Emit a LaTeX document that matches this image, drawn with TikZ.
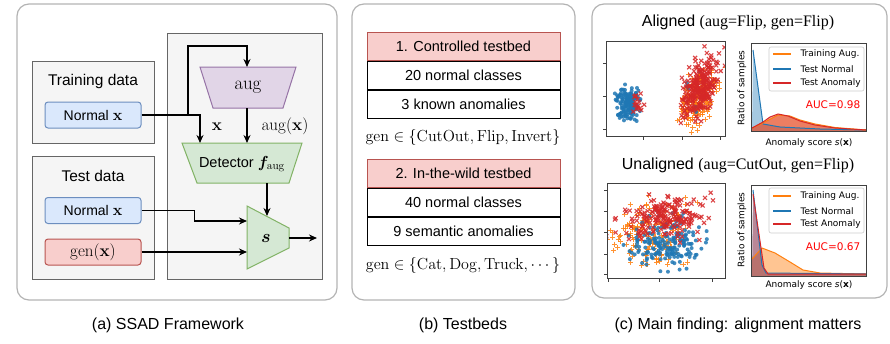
\RequirePackage{fix-cm}
\documentclass[tikz,border=0pt]{standalone}
\usepackage[no-math]{fontspec}
\usepackage{amsmath, amssymb, bm}
\usepackage{xcolor}
\usepackage{tikz}
\usetikzlibrary{positioning,arrows.meta}

\newfontfamily\hv{Liberation Sans}
\newfontfamily\dv{DejaVu Sans}
\newfontfamily\tms{Liberation Serif}
\newcommand{\setfs}[1]{\fontsize{#1}{#1}\selectfont}

\definecolor{panelline}{HTML}{B3B3B3}
\definecolor{groupline}{HTML}{666666}
\definecolor{groupfill}{HTML}{F5F5F5}
\definecolor{bluefill}{HTML}{DAE8FC}
\definecolor{blueline}{HTML}{6C8EBF}
\definecolor{redfill}{HTML}{F8CECC}
\definecolor{redline}{HTML}{B85450}
\definecolor{purpfill}{HTML}{E1D5E7}
\definecolor{purpline}{HTML}{9673A6}
\definecolor{greenfill}{HTML}{D5E8D4}
\definecolor{greenline}{HTML}{82B366}
\definecolor{mplblue}{HTML}{1F77B4}
\definecolor{mplorange}{HTML}{FF7F0E}
\definecolor{mplred}{HTML}{D62728}

\tikzset{
  panel/.style={draw=panelline, line width=1.2pt, rounded corners=12pt},
  group/.style={draw=groupline, fill=groupfill, line width=1pt},
  inbox/.style={rounded corners=3pt, line width=1pt, minimum width=96pt,
    minimum height=26pt, font=\hv\setfs{14}},
  bluebox/.style={inbox, draw=blueline, fill=bluefill},
  redbox/.style={inbox, draw=redline, fill=redfill},
  augshape/.style={draw=purpline, fill=purpfill, line width=1pt},
  detshape/.style={draw=greenline, fill=greenfill, line width=1pt},
  arr/.style={line width=1.3pt, -{Stealth[length=8pt,width=7pt]}},
  rowbox/.style={draw=black, line width=1pt, minimum width=193pt,
    minimum height=28pt, font=\hv\setfs{14.5}},
  headbox/.style={rowbox, draw=redline, fill=redfill},
  axisbox/.style={draw=black!75, line width=0.9pt},
  legbox/.style={draw=black!20, fill=white, fill opacity=0.8, rounded corners=2pt, line width=0.6pt},
  bdot/.style={fill=mplblue, opacity=0.85},
  oplus/.style={draw=mplorange, line width=1.1pt, opacity=0.85},
  rcross/.style={draw=mplred, line width=1.1pt, opacity=0.85}
}

\begin{document}
\begin{tikzpicture}[x=1pt, y=-1pt]
\useasboundingbox (0,0) rectangle (890,343);

% (a) framework
\draw[panel] (17,4) rectangle (337,300);
\draw[group] (32,61) rectangle (154,143);
\draw[group] (32,156) rectangle (154,279);
\draw[group] (167,33) rectangle (322,279);

\node[font=\hv\setfs{15.5}] (trtitle) at (93,81) {Training data};
\node[bluebox] (trnorm) at (93,115) {Normal \setfs{16}$\mathbf{x}$};
\node[font=\hv\setfs{15.5}] (tstitle) at (93,176) {Test data};
\node[bluebox] (tsnorm) at (93,210.5) {Normal \setfs{16}$\mathbf{x}$};
\node[redbox] (tsgen) at (93,252) {\setfs{17}$\mathrm{gen}(\mathbf{x})$};

\draw[augshape] (200,67) -- (296,67) -- (283,108) -- (213,108) -- cycle;
\node[font=\setfs{19}] (aug) at (248,87) {$\mathrm{aug}$};
\draw[detshape] (182,143) -- (302,143) -- (289,183) -- (197,183) -- cycle;
\node[font=\hv\setfs{14.5}] (det) at (242,164) {Detector \setfs{16}$\bm{f}_{\mathrm{aug}}$};
\draw[detshape] (247,206) -- (289,228) -- (289,248) -- (247,269) -- cycle;
\node[font=\setfs{18}] (score) at (266,238) {$\bm{s}$};

\coordinate (split) at (188,115);
\coordinate (loop) at (247,46);
\coordinate (augin) at (247,67);
\coordinate (augout) at (247,108);
\coordinate (detinx) at (200,143);
\coordinate (detinaug) at (247,143);
\coordinate (detout) at (267,183);
\coordinate (sintop) at (267,216);
\coordinate (sinnorm) at (247,221);
\coordinate (singen) at (247,252);
\coordinate (sout) at (289,238);
\coordinate (send) at (317,238);

\draw[arr] (trnorm.east) -| (detinx);
\draw[arr] (split) |- (loop) -- (augin);
\draw[arr] (augout) -- (detinaug);
\draw[arr] (detout) -- (sintop);
\draw[arr] (tsnorm.east) -- ++(53,0) |- (sinnorm);
\draw[arr] (tsgen.east) -- (singen);
\draw[arr] (sout) -- (send);

\node[font=\setfs{17}] (xlbl) at (217,127) {$\mathbf{x}$};
\node[font=\setfs{17}] (auglbl) at (285,126) {$\mathrm{aug}(\mathbf{x})$};

\node[font=\hv\setfs{16}] (capa) at (168,325) {(a) SSAD Framework};

% (b) testbeds
\draw[panel] (352,4) rectangle (575,300);
\node[headbox] (tbone) at (463.5,46) {1. Controlled testbed};
\node[rowbox, below=0pt of tbone] (tbonea) {20 normal classes};
\node[rowbox, below=0pt of tbonea] (tboneb) {3 known anomalies};
\node[font=\setfs{16}] (genone) at (463,137)
  {$\mathrm{gen}\in\{\mathrm{CutOut},\mathrm{Flip},\mathrm{Invert}\}$};
\node[headbox] (tbtwo) at (463.5,173.5) {2. In-the-wild testbed};
\node[rowbox, below=0pt of tbtwo] (tbtwoa) {40 normal classes};
\node[rowbox, below=0pt of tbtwoa] (tbtwob) {9 semantic anomalies};
\node[font=\setfs{16}] (gentwo) at (463,265)
  {$\mathrm{gen}\in\{\mathrm{Cat},\mathrm{Dog},\mathrm{Truck},\cdots\}$};

\node[font=\hv\setfs{16}] (capb) at (463,325) {(b) Testbeds};

% (c) main finding
\draw[panel] (592,4) rectangle (887,298);
\node[font=\hv\setfs{16}] (ttlal) at (738,22) {Aligned {\tms(aug=Flip, gen=Flip)}};
\node[font=\hv\setfs{16}] (ttlun) at (738,165) {Unaligned {\tms(aug=CutOut, gen=Flip)}};

\pgfmathsetseed{42}
% aligned scatter
\begin{scope}
\clip (606,41) rectangle (725,136);
\foreach \i in {1,...,190}{
  \pgfmathsetmacro{\ga}{rand+rand+rand}
  \pgfmathsetmacro{\gb}{rand+rand+rand}
  \draw[oplus] (699+7.5*\ga+4*\gb,98-14*\gb) ++(-2.6,0) -- ++(5.2,0) ++(-2.6,-2.6) -- ++(0,5.2);
}
\foreach \i in {1,...,170}{
  \pgfmathsetmacro{\ga}{rand+rand+rand}
  \pgfmathsetmacro{\gb}{rand+rand+rand}
  \fill[bdot] (628+5.5*\ga,103+8*\gb) circle (2);
}
\foreach \i in {1,...,6}{
  \pgfmathsetmacro{\ga}{rand+rand+rand}
  \pgfmathsetmacro{\gb}{rand+rand+rand}
  \fill[bdot] (695+5*\ga,90+12*\gb) circle (2);
}
\foreach \i in {1,...,240}{
  \pgfmathsetmacro{\ga}{rand+rand+rand}
  \pgfmathsetmacro{\gb}{rand+rand+rand}
  \draw[rcross] (701+8*\ga+4*\gb,88-15*\gb) ++(-2,-2) -- ++(4,4) ++(0,-4) -- ++(-4,4);
}
\foreach \i in {1,...,16}{
  \pgfmathsetmacro{\ga}{rand+rand+rand}
  \pgfmathsetmacro{\gb}{rand+rand+rand}
  \draw[rcross] (638+3*\ga,104+6*\gb) ++(-2,-2) -- ++(4,4) ++(0,-4) -- ++(-4,4);
}
\end{scope}
\draw[axisbox] (606,41) rectangle (725,136);
\foreach \ty in {63,96,129} \draw[black!75, line width=0.7pt] (606,\ty) -- (602.5,\ty);
\foreach \tx in {643,682,720} \draw[black!75, line width=0.7pt] (\tx,136) -- (\tx,139.5);

% unaligned scatter
\begin{scope}
\clip (607,183) rectangle (725,278);
\foreach \i in {1,...,150}{
  \pgfmathsetmacro{\ga}{rand+rand+rand}
  \pgfmathsetmacro{\gb}{rand+rand+rand}
  \draw[oplus] (652+20*\ga,233+16*\gb) ++(-2.6,0) -- ++(5.2,0) ++(-2.6,-2.6) -- ++(0,5.2);
}
\foreach \i in {1,...,190}{
  \pgfmathsetmacro{\ga}{rand+rand+rand}
  \pgfmathsetmacro{\gb}{rand+rand+rand}
  \fill[bdot] (665+18*\ga,243+13*\gb) circle (2);
}
\foreach \i in {1,...,190}{
  \pgfmathsetmacro{\ga}{rand+rand+rand}
  \pgfmathsetmacro{\gb}{rand+rand+rand}
  \draw[rcross] (666+22*\ga,217+11*\gb-3*\ga) ++(-2,-2) -- ++(4,4) ++(0,-4) -- ++(-4,4);
}
\end{scope}
\draw[axisbox] (607,183) rectangle (725,278);
\foreach \ty in {190,211,232,254,274} \draw[black!75, line width=0.7pt] (607,\ty) -- (603.5,\ty);
\foreach \tx in {608,659,712} \draw[black!75, line width=0.7pt] (\tx,278) -- (\tx,281.5);

% aligned histogram
\fill[mplblue, opacity=0.4] (752,131) -- (753,50) -- (763,124) -- (780,127) -- (820,129) -- (866,130) -- (866,131) -- cycle;
\fill[mplorange, opacity=0.45] (752,131) -- (752,128) -- (763,123) -- (778,115) -- (790,116) -- (800,120) -- (815,124) -- (835,127.5) -- (866,130) -- (866,131) -- cycle;
\fill[mplred, opacity=0.45] (752,131) -- (752,128) -- (763,122) -- (770,117) -- (778,114) -- (788,116) -- (800,121) -- (815,125) -- (835,128) -- (866,130) -- (866,131) -- cycle;
\draw[mplblue, line width=1pt] (753,50) -- (763,124) -- (780,127) -- (820,129) -- (866,130);
\draw[mplorange, line width=1pt] (752,128) -- (763,123) -- (778,115) -- (790,116) -- (800,120) -- (815,124) -- (835,127.5) -- (866,130);
\draw[mplred, line width=1pt] (752,128) -- (763,122) -- (770,117) -- (778,114) -- (788,116) -- (800,121) -- (815,125) -- (835,128) -- (866,130);
\draw[axisbox] (751,43) rectangle (866,131);
\draw[legbox] (769,47) rectangle (864,91);
\draw[mplorange, line width=1.2pt] (773,54) -- (791,54);
\draw[mplblue, line width=1.2pt] (773,69) -- (791,69);
\draw[mplred, line width=1.2pt] (773,83) -- (791,83);
\node[font=\dv\setfs{9}, anchor=west] (lgaug) at (797,54) {Training Aug.};
\node[font=\dv\setfs{9}, anchor=west] (lgnorm) at (797,69) {Test Normal};
\node[font=\dv\setfs{9}, anchor=west] (lganom) at (797,83) {Test Anomaly};
\node[font=\dv\setfs{10.5}, text=red] (aucal) at (833,105) {AUC=0.98};
\node[font=\dv\setfs{9}, rotate=90] (ratal) at (742,88) {Ratio of samples};
\node[font=\dv\setfs{9}] (scal) at (809,143) {Anomaly score \textit{s}(\textbf{x})};

% unaligned histogram
\fill[mplorange, opacity=0.45] (752,276) -- (752,259) -- (762,248) -- (775,253) -- (790,262) -- (803,270) -- (820,273) -- (866,274) -- (866,276) -- cycle;
\fill[mplblue, opacity=0.4] (752,276) -- (753,190) -- (762,265) -- (766,273) -- (866,274) -- (866,276) -- cycle;
\fill[mplred, opacity=0.4] (752,276) -- (753,194) -- (764,268) -- (768,274) -- (866,274) -- (866,276) -- cycle;
\draw[mplorange, line width=1pt] (752,259) -- (762,248) -- (775,253) -- (790,262) -- (803,270) -- (820,273) -- (866,274);
\draw[mplblue, line width=1pt] (753,190) -- (762,265) -- (766,273) -- (866,274);
\draw[mplred, line width=1pt] (753,194) -- (764,268) -- (768,274) -- (866,274);
\draw[axisbox] (751,185) rectangle (866,276);
\draw[legbox] (769,188) rectangle (864,233);
\draw[mplorange, line width=1.2pt] (773,196) -- (791,196);
\draw[mplblue, line width=1.2pt] (773,211) -- (791,211);
\draw[mplred, line width=1.2pt] (773,224) -- (791,224);
\node[font=\dv\setfs{9}, anchor=west] (lgaugu) at (797,196) {Training Aug.};
\node[font=\dv\setfs{9}, anchor=west] (lgnormu) at (797,211) {Test Normal};
\node[font=\dv\setfs{9}, anchor=west] (lganomu) at (797,224) {Test Anomaly};
\node[font=\dv\setfs{10.5}, text=red] (aucun) at (833,247) {AUC=0.67};
\node[font=\dv\setfs{9}, rotate=90] (ratun) at (742,230) {Ratio of samples};
\node[font=\dv\setfs{9}] (scun) at (809,285) {Anomaly score \textit{s}(\textbf{x})};

\node[font=\hv\setfs{16}] (capc) at (738,325) {(c) Main finding: alignment matters};

\end{tikzpicture}
\end{document}
